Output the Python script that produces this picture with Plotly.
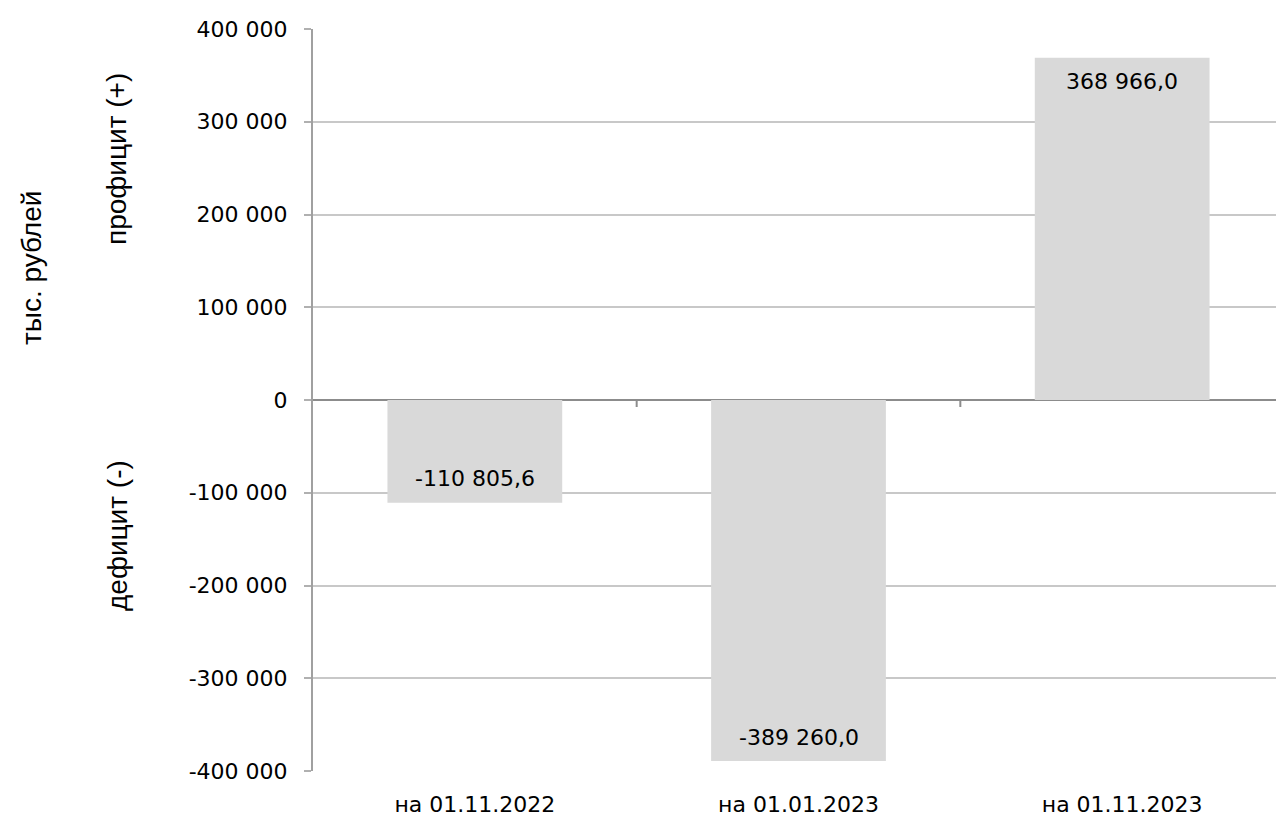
import plotly.graph_objects as go

categories = ["на 01.11.2022", "на 01.01.2023", "на 01.11.2023"]
values = [-110805.6, -389260.0, 368966.0]
tick_vals = [-400000, -300000, -200000, -100000, 0, 100000, 200000, 300000, 400000]
tick_text = ["-400 000", "-300 000", "-200 000", "-100 000", "0",
             "100 000", "200 000", "300 000", "400 000"]
unit_title = "тыс. рублей"
pos_title = "профицит (+)"
neg_title = "дефицит (-)"


def ru_fmt(v):
    return f"{v:,.1f}".replace(",", " ").replace(".", ",")


# page body has an 8px margin: size the figure so it lands on the window
OFF = 8
W, H = 1284 - OFF, 816 - OFF
ML, MR, MT, MB = 313 - OFF, 0, 29 - OFF, 45
PW, PH = W - ML - MR, H - MT - MB

num_font = dict(family="DejaVu Sans", size=22, color="#000000")
title_font = dict(family="Liberation Sans", size=28, color="#000000")

fig = go.Figure()
fig.add_trace(go.Bar(
    x=list(range(len(categories))), y=values, width=0.54,
    marker=dict(color="#d9d9d9", line=dict(width=0)),
    hoverinfo="skip",
))

# data labels inside bar ends
for i, v in enumerate(values):
    fig.add_annotation(
        x=i, y=v, xref="x", yref="y", text=ru_fmt(v), showarrow=False,
        font=num_font, xanchor="center", yanchor="middle",
        yshift=(-24 if v > 0 else 24),
    )

# category boundary tick marks on the zero line
for b in [0.5, 1.5]:
    fig.add_shape(
        type="line", xref="x", yref="y", x0=b, x1=b,
        ysizemode="pixel", yanchor=0, y0=0, y1=-7,
        line=dict(color="#8c8c8c", width=2),
    )


def px_to_paper_x(px):
    return (px - OFF - ML) / PW


def px_to_paper_y(py):
    return (H + OFF - MB - py) / PH


fig.add_annotation(
    x=px_to_paper_x(31), y=px_to_paper_y(268), xref="paper", yref="paper",
    text=unit_title, textangle=-90, showarrow=False, font=title_font,
    xanchor="center", yanchor="middle",
)
fig.add_annotation(
    x=px_to_paper_x(117), y=px_to_paper_y(159), xref="paper", yref="paper",
    text=pos_title, textangle=-90, showarrow=False, font=title_font,
    xanchor="center", yanchor="middle",
)
fig.add_annotation(
    x=px_to_paper_x(117), y=px_to_paper_y(536), xref="paper", yref="paper",
    text=neg_title, textangle=-90, showarrow=False, font=title_font,
    xanchor="center", yanchor="middle",
)

fig.update_layout(
    width=W, height=H,
    margin=dict(l=ML, r=MR, t=MT, b=MB, pad=0),
    paper_bgcolor="white", plot_bgcolor="white",
    showlegend=False,
    bargap=0.46,
    xaxis=dict(
        range=[-0.5, 2.5], tickvals=list(range(len(categories))),
        ticktext=categories, showgrid=False, zeroline=False, showline=False,
        ticks="", ticklabelstandoff=18, tickfont=num_font, fixedrange=True,
    ),
    yaxis=dict(
        range=[-400000, 400000], tickvals=tick_vals, ticktext=tick_text,
        showgrid=True, gridcolor="#c8c8c8", gridwidth=1.5,
        zeroline=True, zerolinecolor="#8c8c8c", zerolinewidth=2,
        showline=True, linecolor="#a0a0a0", linewidth=2,
        ticks="outside", ticklen=7, tickwidth=2, tickcolor="#b0b0b0",
        ticklabelstandoff=12, tickfont=num_font, fixedrange=True,
    ),
)

fig.write_html("out.html", config={"displayModeBar": False})
